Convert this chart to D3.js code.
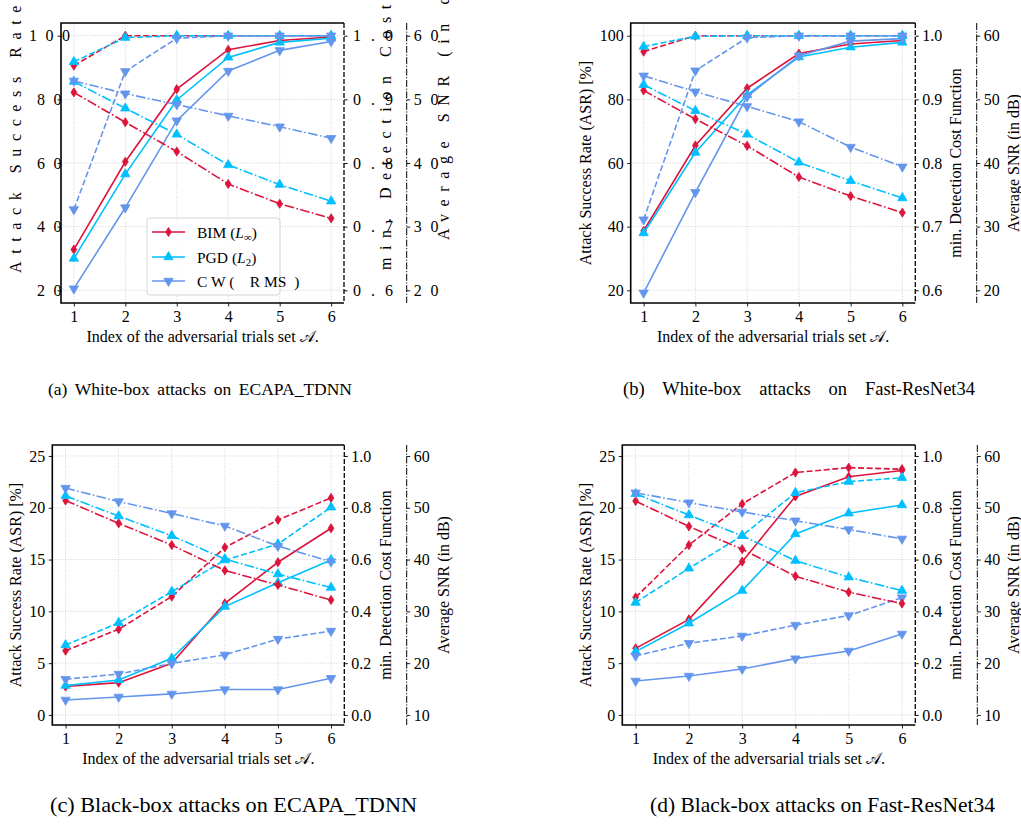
<!DOCTYPE html>
<html><head><meta charset="utf-8">
<script src="https://cdn.jsdelivr.net/npm/d3@7"></script>
<style>
body{margin:0;background:#fff}
svg{display:block}
text{font-family:"Liberation Serif","Times New Roman",serif;fill:#000}
</style>
</head><body>
<svg id="chart" width="1021" height="829"></svg>
<script>
// ---------- data ----------
const xIndex = [1, 2, 3, 4, 5, 6];
const attackNames = ["BIM", "PGD", "CW"];
const attackColors = ["#DC143C", "#00BFFF", "#6495ED"];

// (a) White-box, ECAPA_TDNN
const a_asr_bim = [32.8, 60.4, 83.2, 95.6, 98.5, 99.6];
const a_asr_pgd = [30.0, 56.5, 79.8, 93.2, 97.9, 99.2];
const a_asr_cw  = [20.5, 46.0, 73.3, 88.9, 95.4, 98.2];
const a_dcf_bim = [0.953, 1.0, 1.0, 1.0, 1.0, 1.0];
const a_dcf_pgd = [0.959, 0.997, 1.0, 1.0, 1.0, 1.0];
const a_dcf_cw  = [0.727, 0.944, 0.996, 1.0, 1.0, 1.0];
const a_snr_bim = [51.1, 46.4, 41.8, 36.7, 33.6, 31.3];
const a_snr_pgd = [52.8, 48.6, 44.5, 39.7, 36.6, 34.0];
const a_snr_cw  = [52.9, 50.9, 49.2, 47.4, 45.7, 43.9];

// (b) White-box, Fast-ResNet34
const b_asr_bim = [38.7, 65.5, 83.5, 94.4, 97.4, 98.5];
const b_asr_pgd = [38.0, 63.3, 81.4, 93.3, 96.4, 97.9];
const b_asr_cw  = [19.2, 50.8, 80.9, 93.7, 98.3, 99.1];
const b_dcf_bim = [0.975, 1.0, 1.0, 1.0, 1.0, 1.0];
const b_dcf_pgd = [0.983, 0.999, 1.0, 1.0, 1.0, 1.0];
const b_dcf_cw  = [0.711, 0.945, 0.997, 1.0, 1.0, 1.0];
const b_snr_bim = [51.4, 46.9, 42.7, 37.8, 34.8, 32.2];
const b_snr_pgd = [52.3, 48.2, 44.5, 40.1, 37.2, 34.5];
const b_snr_cw  = [53.7, 51.2, 48.9, 46.5, 42.5, 39.4];

// (c) Black-box, ECAPA_TDNN
const c_asr_bim = [2.74, 3.12, 4.99, 10.78, 14.74, 18.02];
const c_asr_pgd = [2.83, 3.38, 5.47, 10.46, 12.77, 14.96];
const c_asr_cw  = [1.45, 1.74, 2.03, 2.45, 2.45, 3.54];
const c_dcf_bim = [0.248, 0.331, 0.457, 0.647, 0.753, 0.838];
const c_dcf_pgd = [0.270, 0.356, 0.476, 0.598, 0.660, 0.802];
const c_dcf_cw  = [0.138, 0.158, 0.199, 0.232, 0.293, 0.324];
const c_snr_bim = [51.4, 47.0, 42.8, 37.9, 35.1, 32.2];
const c_snr_pgd = [52.3, 48.4, 44.6, 40.1, 37.2, 34.6];
const c_snr_cw  = [53.8, 51.2, 48.9, 46.5, 42.6, 39.6];

// (d) Black-box, Fast-ResNet34
const d_asr_bim = [6.43, 9.23, 14.8, 21.1, 23.0, 23.6];
const d_asr_pgd = [6.11, 8.85, 12.0, 17.47, 19.47, 20.27];
const d_asr_cw  = [3.28, 3.76, 4.44, 5.44, 6.18, 7.82];
const d_dcf_bim = [0.454, 0.656, 0.815, 0.936, 0.955, 0.949];
const d_dcf_pgd = [0.434, 0.566, 0.692, 0.858, 0.901, 0.916];
const d_dcf_cw  = [0.228, 0.277, 0.305, 0.347, 0.384, 0.453];
const d_snr_bim = [51.3, 46.4, 42.0, 36.8, 33.7, 31.5];
const d_snr_pgd = [52.7, 48.6, 44.6, 39.8, 36.6, 34.0];
const d_snr_cw  = [52.9, 51.0, 49.2, 47.5, 45.8, 44.0];

// tick labels
const whiteAsrTicks = [20, 40, 60, 80, 100];
const whiteDcfTicks = [0.6, 0.7, 0.8, 0.9, 1.0];
const whiteSnrTicks = [20, 30, 40, 50, 60];
const blackAsrTicks = [0, 5, 10, 15, 20, 25];
const blackDcfTicks = [0.0, 0.2, 0.4, 0.6, 0.8, 1.0];
const blackSnrTicks = [10, 20, 30, 40, 50, 60];

const captions = [
  "(a) White-box attacks on ECAPA_TDNN",
  "(b) White-box attacks on Fast-ResNet34",
  "(c) Black-box attacks on ECAPA_TDNN",
  "(d) Black-box attacks on Fast-ResNet34"
];
const asrLabel = "Attack Success Rate (ASR) [%]";
const dcfLabel = "min. Detection Cost Function";
const snrLabel = "Average SNR (in dB)";
const xLabel = "Index of the adversarial trials set 𝒜.";

// ---------- layout ----------
const panels = [
  {left:61, right:344, top:23, bottom:303, snrX:406.7,
   asrDom:[16,104], dcfDom:[0.58,1.02], snrDom:[18,62],
   asrT:whiteAsrTicks, dcfT:whiteDcfTicks, snrT:whiteSnrTicks,
   asr:[a_asr_bim,a_asr_pgd,a_asr_cw], dcf:[a_dcf_bim,a_dcf_pgd,a_dcf_cw], snr:[a_snr_bim,a_snr_pgd,a_snr_cw],
   spaced:true, legend:true, lblL:21, lblD:391, lblS:449,
   cap:captions[0], capX:48, capW:304, capY:395, capFS:17.5, capMode:"words"},
  {left:630.7, right:915.3, top:23, bottom:303, snrX:976.7,
   asrDom:[16,104], dcfDom:[0.58,1.02], snrDom:[18,62],
   asrT:whiteAsrTicks, dcfT:whiteDcfTicks, snrT:whiteSnrTicks,
   asr:[b_asr_bim,b_asr_pgd,b_asr_cw], dcf:[b_dcf_bim,b_dcf_pgd,b_dcf_cw], snr:[b_snr_bim,b_snr_pgd,b_snr_cw],
   spaced:false, legend:false, lblL:591, lblD:961, lblS:1019,
   cap:captions[1], capX:623, capW:352, capY:395, capFS:18.5, capMode:"words"},
  {left:52.3, right:344.3, top:445, bottom:725, snrX:406.7,
   asrDom:[-0.97,26.06], dcfDom:[-0.0388,1.0424], snrDom:[8.06,62.12],
   asrT:blackAsrTicks, dcfT:blackDcfTicks, snrT:blackSnrTicks,
   asr:[c_asr_bim,c_asr_pgd,c_asr_cw], dcf:[c_dcf_bim,c_dcf_pgd,c_dcf_cw], snr:[c_snr_bim,c_snr_pgd,c_snr_cw],
   spaced:false, legend:false, lblL:21, lblD:391, lblS:449,
   cap:captions[2], capX:50, capW:367, capY:812, capFS:21, capMode:"glyphs"},
  {left:622.3, right:915.3, top:445, bottom:725, snrX:977.3,
   asrDom:[-0.97,26.06], dcfDom:[-0.0388,1.0424], snrDom:[8.06,62.12],
   asrT:blackAsrTicks, dcfT:blackDcfTicks, snrT:blackSnrTicks,
   asr:[d_asr_bim,d_asr_pgd,d_asr_cw], dcf:[d_dcf_bim,d_dcf_pgd,d_dcf_cw], snr:[d_snr_bim,d_snr_pgd,d_snr_cw],
   spaced:false, legend:false, lblL:591, lblD:961, lblS:1019,
   cap:captions[3], capX:650, capW:345, capY:812, capFS:21, capMode:"glyphs"}
];

const svg = d3.select("#chart");
const FS = 16;
const LW = 1.6;
const dashStyles = {solid:null, dashed:"6,2.6", dashdot:"9.6,2.4,1.6,2.4"};

function markerPath(k) {
  if (k === 0) { // thin diamond
    const w = 2.9, h = 4.6;
    return `M0,${-h}L${w},0L0,${h}L${-w},0Z`;
  }
  return d3.symbol(d3.symbolTriangle, 38)();
}
function markerTransform(k, px, py) {
  return k === 2 ? `translate(${px},${py}) rotate(180)` : `translate(${px},${py})`;
}

function drawPanel(p) {
  const g = svg.append("g");
  const x = d3.scaleLinear().domain([0.75, 6.25]).range([p.left, p.right]);
  const yA = d3.scaleLinear().domain(p.asrDom).range([p.bottom, p.top]);
  const yD = d3.scaleLinear().domain(p.dcfDom).range([p.bottom, p.top]);
  const yS = d3.scaleLinear().domain(p.snrDom).range([p.bottom, p.top]);

  // grid
  const grid = g.append("g").attr("stroke", "#c8c8c8").attr("stroke-width", 0.8).attr("stroke-dasharray", "1,1.6");
  xIndex.forEach(v => grid.append("line").attr("x1", x(v)).attr("x2", x(v)).attr("y1", p.top).attr("y2", p.bottom));
  p.asrT.forEach(v => grid.append("line").attr("x1", p.left).attr("x2", p.right).attr("y1", yA(v)).attr("y2", yA(v)));

  // series
  const groups = [
    {vals:p.asr, y:yA, dash:dashStyles.solid},
    {vals:p.dcf, y:yD, dash:dashStyles.dashed},
    {vals:p.snr, y:yS, dash:dashStyles.dashdot}
  ];
  groups.forEach(grp => {
    grp.vals.forEach((arr, k) => {
      const line = d3.line().x((d, i) => x(xIndex[i])).y(d => grp.y(d));
      g.append("path").attr("d", line(arr)).attr("fill", "none")
        .attr("stroke", attackColors[k]).attr("stroke-width", LW)
        .attr("stroke-dasharray", grp.dash);
      g.selectAll(null).data(arr).enter().append("path")
        .attr("d", markerPath(k))
        .attr("transform", (d, i) => markerTransform(k, x(xIndex[i]), grp.y(d)))
        .attr("fill", attackColors[k]).attr("stroke", attackColors[k]).attr("stroke-width", 0.8);
    });
  });

  // axes
  const tk = 3.5, pad = 3.5;
  const ax = g.append("g").attr("transform", `translate(0,${p.bottom})`)
    .call(d3.axisBottom(x).tickValues(xIndex).tickFormat(d3.format("d")).tickSize(tk).tickPadding(pad).tickSizeOuter(0));
  const al = g.append("g").attr("transform", `translate(${p.left},0)`)
    .call(d3.axisLeft(yA).tickValues(p.asrT).tickFormat(d3.format("d")).tickSize(tk).tickPadding(pad).tickSizeOuter(0));
  const ad = g.append("g").attr("transform", `translate(${p.right},0)`)
    .call(d3.axisRight(yD).tickValues(p.dcfT).tickFormat(d3.format(".1f")).tickSize(tk).tickPadding(pad).tickSizeOuter(0));
  const as = g.append("g").attr("transform", `translate(${p.snrX},0)`)
    .call(d3.axisRight(yS).tickValues(p.snrT).tickFormat(d3.format("d")).tickSize(tk).tickPadding(pad).tickSizeOuter(0));
  [ax, al, ad, as].forEach(a => {
    a.select(".domain").remove();
    a.selectAll("line").attr("stroke", "#000").attr("stroke-width", 0.9);
    a.selectAll("text").attr("font-size", FS).attr("font-family", null).style("font-family", '"Liberation Serif","Times New Roman",serif');
  });
  ax.selectAll("text").attr("dy", "0.78em");

  if (p.spaced) {
    al.selectAll("text").each(function () {
      const t = d3.select(this); const n = t.text().length;
      t.attr("text-anchor", "start").attr("x", -(n * 8 + 8)).style("letter-spacing", "8.5px");
    });
    ad.selectAll("text").attr("dx", 2).text(function () { return d3.select(this).text().split("").join(" "); })
      .style("white-space", "pre").style("letter-spacing", "3px");
    as.selectAll("text").style("letter-spacing", "8.7px");
  }

  // spines
  const sp = g.append("g").attr("stroke", "#000").attr("fill", "none");
  sp.append("path").attr("d", `M${p.right},${p.top}H${p.left}V${p.bottom}H${p.right}`).attr("stroke-width", 1.6);
  sp.append("line").attr("x1", p.right).attr("x2", p.right).attr("y1", p.top).attr("y2", p.bottom)
    .attr("stroke-width", 1.3).attr("stroke-dasharray", "5,2");
  sp.append("line").attr("x1", p.snrX).attr("x2", p.snrX).attr("y1", p.top).attr("y2", p.bottom)
    .attr("stroke-width", 1).attr("stroke-dasharray", "7,1.6,1.2,1.6");

  // axis labels
  const cy = (p.top + p.bottom) / 2;
  const lab = (xx, text, startY) => {
    const t = g.append("text").attr("font-size", FS)
      .attr("transform", `translate(${xx},${p.spaced ? startY : cy}) rotate(-90)`)
      .attr("text-anchor", p.spaced ? "start" : "middle").text(text);
    if (p.spaced) t.style("letter-spacing", "7.6px").style("white-space", "pre");
    return t;
  };
  lab(p.lblL, asrLabel, 273);
  lab(p.lblD, dcfLabel, 270);
  lab(p.lblS, snrLabel, 240);

  g.append("text").attr("font-size", FS).attr("text-anchor", "middle")
    .attr("x", (p.left + p.right) / 2).attr("y", p.bottom + 39).text(xLabel);

  // caption
  const cap = g.append("text").attr("font-size", p.capFS).attr("x", p.capX).attr("y", p.capY).text(p.cap);
  const natural = cap.node().getComputedTextLength();
  if (p.capMode === "words") {
    const nSpaces = p.cap.split(" ").length - 1;
    cap.style("word-spacing", Math.max(0, (p.capW - natural) / nSpaces) + "px");
  } else {
    cap.attr("textLength", p.capW).attr("lengthAdjust", "spacingAndGlyphs");
  }

  // legend
  if (p.legend) {
    const lg = g.append("g");
    lg.append("rect").attr("x", 147).attr("y", 218).attr("width", 133).attr("height", 77).attr("rx", 3)
      .attr("fill", "#fff").attr("fill-opacity", 0.8).attr("stroke", "#d0d0d0").attr("stroke-width", 0.9);
    const rows = [232, 257, 281];
    rows.forEach((ry, k) => {
      lg.append("line").attr("x1", 152).attr("x2", 185).attr("y1", ry).attr("y2", ry)
        .attr("stroke", attackColors[k]).attr("stroke-width", LW);
      lg.append("path").attr("d", markerPath(k)).attr("transform", markerTransform(k, 168.5, ry))
        .attr("fill", attackColors[k]).attr("stroke", attackColors[k]).attr("stroke-width", 0.8);
      const t = lg.append("text").attr("font-size", 15.5).attr("x", 197).attr("y", ry + 5.5).style("white-space", "pre");
      if (k === 0) {
        t.append("tspan").text("BIM (");
        t.append("tspan").attr("font-style", "italic").text("L");
        t.append("tspan").attr("font-size", 11).attr("dy", 3).text("∞");
        t.append("tspan").attr("dy", -3).text(")");
      } else if (k === 1) {
        t.append("tspan").text("PGD (");
        t.append("tspan").attr("font-style", "italic").text("L");
        t.append("tspan").attr("font-size", 11).attr("dy", 3).text("2");
        t.append("tspan").attr("dy", -3).text(")");
      } else {
        t.text("C W (    R MS  )");
      }
    });
  }
}

panels.forEach(drawPanel);
</script>
</body></html>
